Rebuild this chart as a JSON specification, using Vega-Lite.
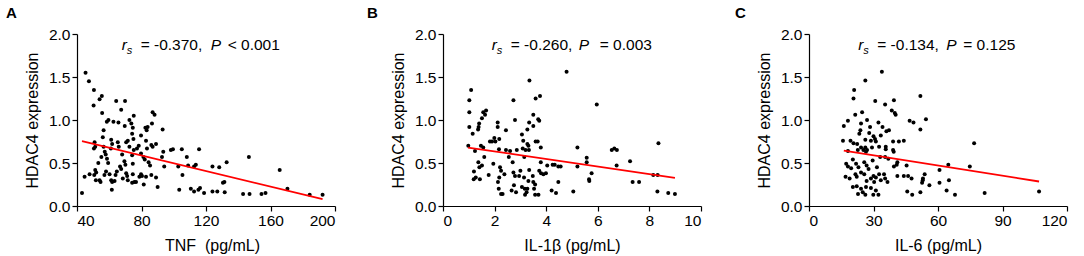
{
  "$schema": "https://vega.github.io/schema/vega-lite/v6.json",
  "padding": {"left": 6, "top": 6, "right": 5, "bottom": 2},
  "spacing": 108,
  "bounds": "flush",
  "datasets": {
    "A_pts": [
      {"x":45.3,"y":1.55},{"x":47.4,"y":1.45},{"x":50.5,"y":1.35},{"x":54,"y":1.24},{"x":55.4,"y":1.28},{"x":50.3,"y":1.17},{"x":64.3,"y":1.22},{"x":69.8,"y":1.22},{"x":67.4,"y":1.12},{"x":55.6,"y":1.08},{"x":86.9,"y":1.09},{"x":88.1,"y":1.06},{"x":75.2,"y":1.05},{"x":59.5,"y":1.0},{"x":58.5,"y":0.98},{"x":62.6,"y":0.98},{"x":72.5,"y":1.0},{"x":73.7,"y":0.96},{"x":65.7,"y":0.97},{"x":69.6,"y":0.93},{"x":74.6,"y":0.91},{"x":82.4,"y":0.91},{"x":83.8,"y":0.92},{"x":86.5,"y":0.96},{"x":83.2,"y":0.88},{"x":93.1,"y":0.89},{"x":56.5,"y":0.88},{"x":56,"y":0.8},{"x":74.2,"y":0.84},{"x":79.7,"y":0.82},{"x":75,"y":0.78},
      {"x":50.9,"y":0.74},{"x":51.3,"y":0.69},{"x":50.5,"y":0.67},{"x":53.2,"y":0.5},{"x":55.1,"y":0.57},{"x":56.5,"y":0.69},{"x":57.2,"y":0.63},{"x":57.8,"y":0.6},{"x":58.6,"y":0.55},{"x":59.3,"y":0.5},{"x":61.2,"y":0.77},{"x":61.8,"y":0.72},{"x":61,"y":0.67},{"x":65.3,"y":0.74},{"x":65.9,"y":0.69},{"x":66.7,"y":0.46},{"x":67.4,"y":0.43},{"x":68,"y":0.6},{"x":70.5,"y":0.74},{"x":71.5,"y":0.76},{"x":72.5,"y":0.69},{"x":69.4,"y":0.52},{"x":70,"y":0.48},{"x":74.2,"y":0.59},{"x":74.6,"y":0.49},{"x":75.2,"y":0.65},{"x":77.2,"y":0.67},{"x":78.3,"y":0.7},{"x":79.7,"y":0.61},{"x":81.2,"y":0.57},{"x":82,"y":0.54},{"x":82.8,"y":0.76},{"x":83.4,"y":0.67},{"x":84.4,"y":0.51},{"x":85.3,"y":0.47},{"x":86.1,"y":0.71},{"x":86.9,"y":0.69},{"x":89,"y":0.72},{"x":92.7,"y":0.57},{"x":93.5,"y":0.63},{"x":94.1,"y":0.46},{"x":98.2,"y":0.65},{"x":99.5,"y":0.66},{"x":105,"y":0.66},{"x":105.4,"y":0.36},{"x":102.8,"y":0.46},{"x":108.1,"y":0.57},{"x":108.9,"y":0.47},{"x":112.6,"y":0.46},{"x":113.7,"y":0.48},{"x":115.7,"y":0.66},{"x":124,"y":0.46},{"x":128.2,"y":0.45},{"x":132.8,"y":0.51},{"x":146.6,"y":0.57},{"x":165.7,"y":0.42},
      {"x":43.1,"y":0.15},{"x":44.7,"y":0.34},{"x":47.8,"y":0.37},{"x":50.7,"y":0.36},{"x":51.3,"y":0.42},{"x":51.9,"y":0.39},{"x":51.7,"y":0.3},{"x":54,"y":0.3},{"x":54.6,"y":0.28},{"x":57,"y":0.36},{"x":58,"y":0.4},{"x":60.2,"y":0.37},{"x":61.2,"y":0.3},{"x":61.8,"y":0.28},{"x":61.6,"y":0.19},{"x":63.3,"y":0.29},{"x":63.9,"y":0.36},{"x":64.7,"y":0.4},{"x":68.4,"y":0.32},{"x":70.5,"y":0.38},{"x":71.1,"y":0.35},{"x":71.5,"y":0.3},{"x":74.2,"y":0.27},{"x":74.6,"y":0.37},{"x":75.6,"y":0.28},{"x":76.6,"y":0.28},{"x":78.7,"y":0.34},{"x":79.7,"y":0.37},{"x":80.3,"y":0.35},{"x":81.4,"y":0.25},{"x":82.8,"y":0.34},{"x":86.1,"y":0.36},{"x":89,"y":0.33},{"x":90,"y":0.22},{"x":103.4,"y":0.19},{"x":110.6,"y":0.2},{"x":112.6,"y":0.17},{"x":115.3,"y":0.19},{"x":116.3,"y":0.21},{"x":118.8,"y":0.15},{"x":124,"y":0.17},{"x":127,"y":0.17},{"x":130.5,"y":0.27},{"x":131.4,"y":0.28},{"x":131.6,"y":0.16},{"x":143,"y":0.14},{"x":147,"y":0.14},{"x":154.4,"y":0.14},{"x":156.9,"y":0.15},{"x":170.5,"y":0.2},{"x":184.3,"y":0.13},{"x":192.3,"y":0.13}
    ],
    "A_fit": [{"x":43.1,"y":0.753},{"x":192.3,"y":0.08}],
    "A_lab": [{"x":67.7,"y":1.81,"eq":"= -0.370,","pv":"< 0.001"}],
    "B_pts": [
      {"x":1.09,"y":1.35},{"x":1.02,"y":1.23},{"x":1.02,"y":1.09},{"x":1.02,"y":0.92},{"x":0.98,"y":0.7},{"x":1.15,"y":0.84},{"x":1.36,"y":0.89},{"x":1.4,"y":0.96},{"x":1.38,"y":0.92},{"x":1.56,"y":1.09},{"x":1.63,"y":1.06},{"x":1.67,"y":1.11},{"x":1.51,"y":1.02},{"x":1.24,"y":0.64},{"x":1.37,"y":0.51},{"x":1.2,"y":0.4},{"x":1.27,"y":0.33},{"x":1.19,"y":0.31},{"x":1.43,"y":0.31},{"x":1.41,"y":0.45},{"x":1.51,"y":0.47},{"x":1.47,"y":0.7},{"x":1.56,"y":0.68},{"x":1.6,"y":0.57},{"x":1.82,"y":0.75},{"x":1.9,"y":0.75},{"x":1.99,"y":0.79},{"x":2.03,"y":0.75},{"x":1.77,"y":0.36},{"x":1.95,"y":0.49},{"x":2.12,"y":0.97},{"x":2.12,"y":0.92},{"x":2.18,"y":0.78},{"x":2.17,"y":0.66},{"x":2.21,"y":0.45},{"x":2.25,"y":0.41},{"x":2.18,"y":0.33},{"x":2.13,"y":0.28},{"x":2.16,"y":0.2},{"x":2.25,"y":0.14},{"x":2.31,"y":0.14},{"x":2.38,"y":0.37},{"x":2.44,"y":0.88},{"x":2.44,"y":0.65},{"x":2.6,"y":0.64},{"x":2.55,"y":0.57},{"x":2.86,"y":0.65},{"x":2.73,"y":1.23},{"x":2.79,"y":1.0},{"x":2.7,"y":0.51},{"x":2.73,"y":0.39},{"x":2.79,"y":0.35},{"x":2.75,"y":0.24},{"x":2.66,"y":0.18},{"x":2.83,"y":0.16},{"x":2.95,"y":0.35},{"x":3.0,"y":0.41},{"x":3.14,"y":0.33},{"x":3.06,"y":0.22},{"x":3.17,"y":0.2},{"x":3.24,"y":0.16},{"x":3.11,"y":0.76},{"x":3.06,"y":0.83},{"x":3.09,"y":0.67},{"x":3.2,"y":0.65},{"x":3.27,"y":0.72},{"x":3.35,"y":1.46},
      {"x":4.79,"y":1.56},{"x":5.96,"y":1.18},{"x":3.59,"y":1.25},{"x":3.76,"y":1.28},{"x":3.5,"y":1.06},{"x":3.69,"y":1.01},{"x":3.73,"y":0.99},{"x":3.34,"y":0.97},{"x":3.5,"y":0.93},{"x":3.27,"y":0.89},{"x":3.59,"y":0.75},{"x":3.67,"y":0.75},{"x":3.31,"y":0.7},{"x":3.79,"y":0.68},{"x":3.33,"y":0.65},{"x":3.15,"y":0.57},{"x":5.21,"y":0.68},{"x":6.54,"y":0.65},{"x":6.64,"y":0.67},{"x":6.74,"y":0.65},{"x":8.35,"y":0.73},{"x":3.79,"y":0.51},{"x":3.73,"y":0.41},{"x":3.8,"y":0.38},{"x":3.89,"y":0.37},{"x":3.99,"y":0.38},{"x":4.04,"y":0.47},{"x":4.25,"y":0.48},{"x":4.33,"y":0.48},{"x":4.47,"y":0.46},{"x":4.56,"y":0.46},{"x":3.34,"y":0.42},{"x":3.48,"y":0.35},{"x":3.31,"y":0.29},{"x":3.5,"y":0.28},{"x":3.57,"y":0.25},{"x":3.53,"y":0.2},{"x":3.27,"y":0.2},{"x":3.18,"y":0.13},{"x":3.57,"y":0.13},{"x":3.7,"y":0.13},{"x":4.21,"y":0.18},{"x":4.38,"y":0.15},{"x":4.47,"y":0.28},{"x":5.05,"y":0.17},{"x":5.21,"y":0.46},{"x":5.57,"y":0.56},{"x":5.57,"y":0.51},{"x":5.76,"y":0.38},{"x":5.66,"y":0.31},{"x":5.67,"y":0.29},{"x":6.73,"y":0.47},{"x":7.25,"y":0.52},{"x":7.35,"y":0.28},{"x":7.6,"y":0.28},{"x":8.15,"y":0.36},{"x":8.32,"y":0.36},{"x":8.31,"y":0.17},{"x":8.73,"y":0.15},{"x":8.99,"y":0.14}
    ],
    "B_fit": [{"x":0.97,"y":0.68},{"x":8.99,"y":0.328}],
    "B_lab": [{"x":1.89,"y":1.81,"eq":"= -0.260,","pv":"= 0.003"}],
    "C_pts": [
      {"x":33.9,"y":1.56},{"x":26.2,"y":1.46},{"x":21,"y":1.35},{"x":20.7,"y":1.25},{"x":30.8,"y":1.22},{"x":35.4,"y":1.18},{"x":21.5,"y":1.06},{"x":24.7,"y":1.09},{"x":16.2,"y":0.93},{"x":18.1,"y":0.99},{"x":27,"y":1.0},{"x":24.2,"y":0.96},{"x":32.3,"y":0.97},{"x":36,"y":0.87},{"x":23.9,"y":0.88},{"x":23.4,"y":0.84},{"x":28.4,"y":0.92},{"x":28,"y":0.85},{"x":15.8,"y":0.76},{"x":19.3,"y":0.76},{"x":26.2,"y":0.77},{"x":30,"y":0.81},{"x":30.7,"y":0.78},{"x":20.7,"y":0.73},{"x":22.4,"y":0.72},{"x":22.7,"y":0.65},{"x":24.2,"y":0.68},{"x":25.3,"y":0.65},{"x":26.2,"y":0.68},{"x":26.5,"y":0.63},{"x":28.8,"y":0.76},{"x":31.1,"y":0.75},{"x":29.3,"y":0.68},{"x":32.6,"y":0.69},{"x":27,"y":0.65},{"x":18.1,"y":0.64},{"x":20.4,"y":0.54},{"x":17.3,"y":0.49},{"x":18.1,"y":0.46},{"x":19.6,"y":0.44},{"x":21.9,"y":0.49},{"x":23,"y":0.45},{"x":25.7,"y":0.51},{"x":26.8,"y":0.47},{"x":27.7,"y":0.43},{"x":29.6,"y":0.53},{"x":31.6,"y":0.45},{"x":33.1,"y":0.57},{"x":17,"y":0.34},{"x":18.9,"y":0.32},{"x":21.6,"y":0.37},{"x":22.2,"y":0.34},{"x":24.2,"y":0.39},{"x":25.7,"y":0.37},{"x":26.8,"y":0.29},{"x":28.8,"y":0.32},{"x":30,"y":0.35},{"x":31.1,"y":0.33},{"x":32.6,"y":0.37},{"x":30.3,"y":0.28},{"x":33.4,"y":0.3},{"x":20.4,"y":0.22},{"x":22.2,"y":0.23},{"x":24.2,"y":0.2},{"x":26.5,"y":0.22},{"x":28.8,"y":0.21},{"x":31.1,"y":0.18},{"x":22.8,"y":0.14},{"x":25,"y":0.16},{"x":26.2,"y":0.13},{"x":29.9,"y":0.13},{"x":32.3,"y":0.13},
      {"x":51.8,"y":1.28},{"x":39.5,"y":1.23},{"x":38.5,"y":1.11},{"x":39.9,"y":1.08},{"x":40.3,"y":1.06},{"x":46.8,"y":0.99},{"x":48.6,"y":0.97},{"x":54.4,"y":1.01},{"x":51.8,"y":0.89},{"x":34.2,"y":0.92},{"x":37.2,"y":0.88},{"x":33.4,"y":0.82},{"x":76.8,"y":0.73},{"x":39.1,"y":0.75},{"x":41.8,"y":0.75},{"x":44.1,"y":0.76},{"x":35.7,"y":0.69},{"x":35.7,"y":0.66},{"x":39.1,"y":0.65},{"x":39.4,"y":0.63},{"x":35.4,"y":0.57},{"x":36.9,"y":0.55},{"x":41.1,"y":0.51},{"x":40.8,"y":0.48},{"x":39.5,"y":0.46},{"x":45.4,"y":0.47},{"x":64.8,"y":0.48},{"x":60.7,"y":0.42},{"x":74.8,"y":0.46},{"x":34.9,"y":0.37},{"x":41.1,"y":0.35},{"x":44.1,"y":0.35},{"x":46.1,"y":0.35},{"x":47.7,"y":0.32},{"x":53.8,"y":0.37},{"x":53,"y":0.32},{"x":52.9,"y":0.3},{"x":65.1,"y":0.3},{"x":36.5,"y":0.28},{"x":35.4,"y":0.32},{"x":60.7,"y":0.27},{"x":56,"y":0.24},{"x":52.6,"y":0.27},{"x":45.7,"y":0.17},{"x":48,"y":0.13},{"x":51.8,"y":0.16},{"x":64,"y":0.18},{"x":67.9,"y":0.13},{"x":81.7,"y":0.15},{"x":107,"y":0.17}
    ],
    "C_fit": [{"x":16.2,"y":0.645},{"x":107,"y":0.285}],
    "C_lab": [{"x":22.9,"y":1.81,"eq":"= -0.134,","pv":"= 0.125"}]
  },
  "hconcat": [
    {
      "width": 258, "height": 172,
      "title": {"text": "A", "dx": -71},
      "layer": [
        {"data": {"name": "A_pts"}, "mark": {"type": "circle", "size": 16, "color": "#000", "opacity": 1},
         "encoding": {
           "x": {"field": "x", "type": "quantitative", "scale": {"domain": [40, 200], "nice": false, "zero": false}, "axis": {"values": [40, 80, 120, 160, 200], "title": "TNF\u00a0 (pg/mL)", "titleX": 135}},
           "y": {"field": "y", "type": "quantitative", "scale": {"domain": [0, 2], "nice": false}, "axis": {"values": [0, 0.5, 1, 1.5, 2], "format": ".1f", "title": "HDAC4 expression"}}}},
        {"data": {"name": "A_fit"}, "mark": {"type": "line", "color": "#ff0000", "strokeWidth": 1.8},
         "encoding": {"x": {"field": "x", "type": "quantitative"}, "y": {"field": "y", "type": "quantitative"}}},
        {"data": {"name": "A_lab"},
         "encoding": {"x": {"field": "x", "type": "quantitative"}, "y": {"field": "y", "type": "quantitative"}},
         "layer": [
           {"mark": {"type": "text", "text": "r", "fontStyle": "italic"}},
           {"mark": {"type": "text", "text": "s", "fontStyle": "italic", "fontSize": 11, "dx": 5, "dy": 4}},
           {"mark": {"type": "text", "dx": 19}, "encoding": {"text": {"field": "eq"}}},
           {"mark": {"type": "text", "text": "P", "fontStyle": "italic", "dx": 89}},
           {"mark": {"type": "text", "dx": 106}, "encoding": {"text": {"field": "pv"}}}
         ]}
      ]
    },
    {
      "width": 258, "height": 172,
      "title": {"text": "B", "dx": -76},
      "layer": [
        {"data": {"name": "B_pts"}, "mark": {"type": "circle", "size": 16, "color": "#000", "opacity": 1},
         "encoding": {
           "x": {"field": "x", "type": "quantitative", "scale": {"domain": [0, 10], "nice": false, "zero": false}, "axis": {"values": [0, 2, 4, 6, 8, 10], "title": "IL-1β (pg/mL)"}},
           "y": {"field": "y", "type": "quantitative", "scale": {"domain": [0, 2], "nice": false}, "axis": {"values": [0, 0.5, 1, 1.5, 2], "format": ".1f", "title": "HDAC4 expression"}}}},
        {"data": {"name": "B_fit"}, "mark": {"type": "line", "color": "#ff0000", "strokeWidth": 1.8},
         "encoding": {"x": {"field": "x", "type": "quantitative"}, "y": {"field": "y", "type": "quantitative"}}},
        {"data": {"name": "B_lab"},
         "encoding": {"x": {"field": "x", "type": "quantitative"}, "y": {"field": "y", "type": "quantitative"}},
         "layer": [
           {"mark": {"type": "text", "text": "r", "fontStyle": "italic"}},
           {"mark": {"type": "text", "text": "s", "fontStyle": "italic", "fontSize": 11, "dx": 5, "dy": 4}},
           {"mark": {"type": "text", "dx": 19}, "encoding": {"text": {"field": "eq"}}},
           {"mark": {"type": "text", "text": "P", "fontStyle": "italic", "dx": 87}},
           {"mark": {"type": "text", "dx": 108}, "encoding": {"text": {"field": "pv"}}}
         ]}
      ]
    },
    {
      "width": 258, "height": 172,
      "title": {"text": "C", "dx": -74},
      "layer": [
        {"data": {"name": "C_pts"}, "mark": {"type": "circle", "size": 16, "color": "#000", "opacity": 1},
         "encoding": {
           "x": {"field": "x", "type": "quantitative", "scale": {"domain": [0, 120], "nice": false, "zero": false}, "axis": {"values": [0, 30, 60, 90, 120], "title": "IL-6 (pg/mL)"}},
           "y": {"field": "y", "type": "quantitative", "scale": {"domain": [0, 2], "nice": false}, "axis": {"values": [0, 0.5, 1, 1.5, 2], "format": ".1f", "title": "HDAC4 expression"}}}},
        {"data": {"name": "C_fit"}, "mark": {"type": "line", "color": "#ff0000", "strokeWidth": 1.8},
         "encoding": {"x": {"field": "x", "type": "quantitative"}, "y": {"field": "y", "type": "quantitative"}}},
        {"data": {"name": "C_lab"},
         "encoding": {"x": {"field": "x", "type": "quantitative"}, "y": {"field": "y", "type": "quantitative"}},
         "layer": [
           {"mark": {"type": "text", "text": "r", "fontStyle": "italic"}},
           {"mark": {"type": "text", "text": "s", "fontStyle": "italic", "fontSize": 11, "dx": 5, "dy": 4}},
           {"mark": {"type": "text", "dx": 19}, "encoding": {"text": {"field": "eq"}}},
           {"mark": {"type": "text", "text": "P", "fontStyle": "italic", "dx": 88}},
           {"mark": {"type": "text", "dx": 105}, "encoding": {"text": {"field": "pv"}}}
         ]}
      ]
    }
  ],
  "config": {
    "view": {"stroke": null},
    "font": "Liberation Sans",
    "axis": {"grid": false, "domainColor": "#000", "tickColor": "#000", "labelColor": "#000", "titleColor": "#000", "labelFont": "Liberation Sans", "titleFont": "Liberation Sans", "labelFontSize": 15.5, "titleFontSize": 16, "titleFontWeight": "normal", "tickSize": 5, "labelPadding": 2, "domainWidth": 1.2, "tickWidth": 1.2},
    "axisY": {"titlePadding": 8},
    "axisX": {"titlePadding": 9},
    "title": {"anchor": "start", "frame": "group", "fontSize": 15, "fontWeight": "bold", "font": "Liberation Sans", "color": "#000", "offset": 6, "baseline": "alphabetic"},
    "text": {"font": "Liberation Sans", "fontSize": 15.5, "align": "left", "baseline": "alphabetic", "color": "#000"}
  }
}
